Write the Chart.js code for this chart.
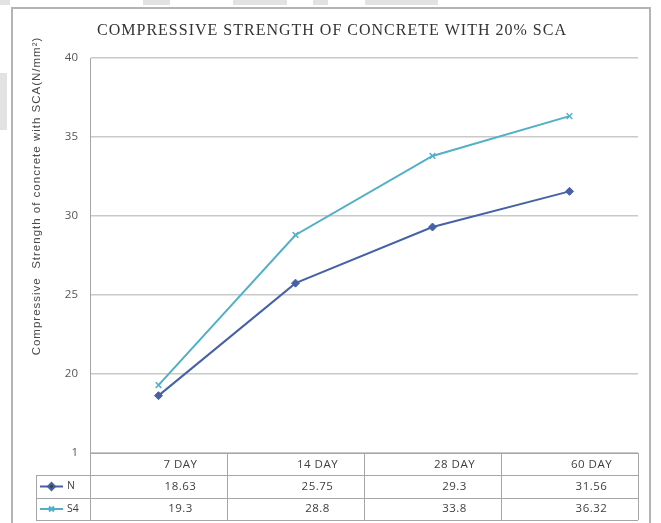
<!DOCTYPE html>
<html>
<head>
<meta charset="utf-8">
<script src="https://cdn.jsdelivr.net/npm/chart.js@4/dist/chart.umd.min.js"></script>
<style>
  html, body { margin: 0; padding: 0; background: #ffffff; }
  #wrap { width: 661px; height: 523px; }
</style>
</head>
<body>
<div id="wrap"><canvas id="c" width="661" height="523"></canvas></div>
<script>
// Curing ages and compressive strength results (N/mm²)
const categories = ['7 DAY', '14 DAY', '28 DAY', '60 DAY'];
const seriesNames = ['N', 'S4'];
const seriesN = [18.63, 25.75, 29.3, 31.56];
const seriesS4 = [19.3, 28.8, 33.8, 36.32];
const yTickValues = [15, 20, 25, 30, 35, 40];
const yTickLabels = ['1', '20', '25', '30', '35', '40'];

const chartTitle = 'COMPRESSIVE STRENGTH OF CONCRETE WITH 20% SCA';
const yTitle = 'Compressive  Strength of concrete with SCA(N/mm\u00B2)';

const colorN = '#4661a6';
const colorS4 = '#52afc8';
const gridColor = '#c9c9c9';
const tableLine = '#a6a6a6';
const textColor = '#404040';

// Page frame, title, rotated axis title and the data table under the plot
const framePlugin = {
  id: 'frame',
  beforeDraw(chart) {
    const ctx = chart.ctx;
    ctx.save();
    ctx.fillStyle = '#ffffff';
    ctx.fillRect(0, 0, chart.width, chart.height);
    // faint page shading
    ctx.fillStyle = '#e2e2e2';
    [[0, 0, 10, 5], [143, 0, 27, 5], [233, 0, 54, 5], [313, 0, 15, 5], [365, 0, 73, 5], [0, 73, 7, 57]]
      .forEach(r => ctx.fillRect(r[0], r[1], r[2], r[3]));
    // outer frame
    ctx.strokeStyle = '#b4b4b4';
    ctx.lineWidth = 2;
    ctx.beginPath();
    ctx.moveTo(12, 530);
    ctx.lineTo(12, 8);
    ctx.lineTo(650, 8);
    ctx.lineTo(650, 530);
    ctx.stroke();
    ctx.restore();
  },
  afterDraw(chart) {
    const ctx = chart.ctx;
    const area = chart.chartArea;
    const xs = chart.scales.x;
    ctx.save();

    // chart title
    ctx.fillStyle = '#333333';
    ctx.font = '16px "Liberation Serif", serif';
    ctx.letterSpacing = '1px';
    ctx.textAlign = 'center';
    ctx.textBaseline = 'middle';
    ctx.fillText(chartTitle, 332, 31);

    // y axis title
    ctx.save();
    ctx.translate(37, 196);
    ctx.rotate(-Math.PI / 2);
    ctx.fillStyle = '#4a4a4a';
    ctx.font = '11.5px "Liberation Sans", sans-serif';
    ctx.letterSpacing = '1px';
    ctx.fillText(yTitle, 0, 0);
    ctx.restore();

    // data table
    const top = area.bottom;
    const rowH = [22, 23, 22];
    const rowY = [top, top + rowH[0], top + rowH[0] + rowH[1], top + rowH[0] + rowH[1] + rowH[2]];
    const colW = (area.right - area.left) / categories.length;
    const legendLeft = 36;

    ctx.letterSpacing = '0px';
    ctx.strokeStyle = tableLine;
    ctx.lineWidth = 1;
    ctx.beginPath();
    // horizontal lines
    ctx.moveTo(area.left, rowY[0] + 0.5); ctx.lineTo(area.right, rowY[0] + 0.5);
    for (let r = 1; r < rowY.length; r++) {
      ctx.moveTo(legendLeft, rowY[r] + 0.5); ctx.lineTo(area.right, rowY[r] + 0.5);
    }
    // vertical lines
    for (let i = 0; i <= categories.length; i++) {
      const x = Math.round(area.left + i * colW) + 0.5;
      ctx.moveTo(x, rowY[0]); ctx.lineTo(x, rowY[3]);
    }
    ctx.moveTo(legendLeft + 0.5, rowY[1]); ctx.lineTo(legendLeft + 0.5, rowY[3]);
    ctx.stroke();

    ctx.fillStyle = textColor;
    ctx.font = '11.5px "Open Sans", sans-serif';
    ctx.letterSpacing = '0.5px';
    ctx.textAlign = 'center';
    ctx.textBaseline = 'middle';
    const rows = [seriesN, seriesS4];
    categories.forEach((cat, i) => {
      const cx = xs.getPixelForValue(i) + 22;
      ctx.fillText(cat, cx, (rowY[0] + rowY[1]) / 2 + 1);
      rows.forEach((vals, r) => {
        ctx.fillText(String(vals[i]), cx, (rowY[r + 1] + rowY[r + 2]) / 2);
      });
    });
    ctx.letterSpacing = '0px';

    // legend keys in the row headers
    const ds = chart.data.datasets;
    ds.forEach((d, r) => {
      const y = (rowY[r + 1] + rowY[r + 2]) / 2;
      ctx.strokeStyle = d.borderColor;
      ctx.lineWidth = 2;
      ctx.beginPath();
      ctx.moveTo(40, y); ctx.lineTo(63, y);
      ctx.stroke();
      Chart.helpers.drawPoint(ctx, {
        pointStyle: d.pointStyle, radius: 3.5, borderWidth: 1.5, rotation: 0
      }, 51.5, y);
      ctx.fillStyle = textColor;
      ctx.textAlign = 'left';
      ctx.font = '10.5px "Open Sans", sans-serif';
      ctx.fillText(seriesNames[r], 67, y);
    });

    ctx.restore();
  }
};

new Chart(document.getElementById('c'), {
  type: 'line',
  data: {
    labels: categories,
    datasets: [
      {
        label: seriesNames[0],
        data: seriesN,
        borderColor: colorN,
        backgroundColor: colorN,
        borderWidth: 2,
        pointStyle: 'rectRot',
        pointRadius: 4,
        pointBorderWidth: 1,
        tension: 0
      },
      {
        label: seriesNames[1],
        data: seriesS4,
        borderColor: colorS4,
        backgroundColor: colorS4,
        borderWidth: 2,
        pointStyle: 'crossRot',
        pointRadius: 4,
        pointBorderWidth: 1.5,
        tension: 0
      }
    ]
  },
  options: {
    responsive: false,
    animation: false,
    devicePixelRatio: 1,
    layout: { padding: { left: 12, right: 23, top: 58, bottom: 70 } },
    plugins: {
      legend: { display: false },
      title: { display: false },
      tooltip: { enabled: false }
    },
    scales: {
      x: {
        type: 'category',
        offset: true,
        display: false
      },
      y: {
        min: 15,
        max: 40,
        afterFit(scale) { scale.width = 78; },
        afterBuildTicks(scale) { scale.ticks = yTickValues.map(v => ({ value: v })); },
        ticks: {
          padding: 12,
          color: '#555555',
          font: { family: '"Open Sans", sans-serif', size: 11.5 },
          callback(value) {
            const i = yTickValues.indexOf(value);
            return i >= 0 ? yTickLabels[i] : '';
          }
        },
        grid: { color: gridColor, lineWidth: 1.5, drawTicks: false },
        border: { color: tableLine, width: 1 }
      }
    }
  },
  plugins: [framePlugin]
});
</script>
</body>
</html>
